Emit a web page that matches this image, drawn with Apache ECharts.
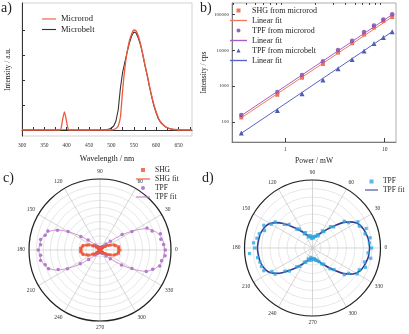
<!DOCTYPE html>
<html>
<head>
<meta charset="utf-8">
<script src="https://cdn.jsdelivr.net/npm/echarts@6/dist/echarts.min.js"></script>
<style>
html, body { margin: 0; padding: 0; background: #fff; }
#chart { width: 409px; height: 334px; }
</style>
</head>
<body>
<div id="chart"></div>
<script>
// a) emission spectra
const wavelength = [300, 385, 388, 391, 395, 399, 402, 405, 480, 490, 495, 500, 505, 510, 515, 520, 525, 530, 535, 540, 545, 550, 555, 560, 565, 570, 575, 580, 585, 590, 595, 600, 605, 610, 620, 630, 640, 660, 680];
const microrod = [0, 0, 0.03, 0.11, 0.18, 0.10, 0.03, 0, 0, 0, 0, 0, 0.005, 0.015, 0.04, 0.13, 0.40, 0.62, 0.78, 0.89, 0.96, 1.0, 0.99, 0.94, 0.86, 0.76, 0.65, 0.55, 0.44, 0.34, 0.25, 0.18, 0.12, 0.08, 0.035, 0.014, 0.005, 0, 0];
const microbelt = [0, 0, 0, 0, 0, 0, 0, 0, 0, 0.005, 0.01, 0.02, 0.04, 0.09, 0.2, 0.42, 0.58, 0.68, 0.78, 0.87, 0.94, 0.98, 0.97, 0.92, 0.85, 0.75, 0.64, 0.54, 0.43, 0.33, 0.24, 0.17, 0.11, 0.075, 0.033, 0.013, 0.005, 0, 0];

// b) power dependence (log-log)
const power = [0.36, 0.83, 1.47, 2.39, 3.39, 4.7, 6.2, 7.8, 9.7, 11.9];
const shgRod = [133, 573, 1720, 4170, 8700, 15900, 27700, 43600, 66000, 85500];
const tpfRod = [155, 690, 2040, 5000, 10300, 18700, 32500, 50000, 72900, 103000];
const tpfBelt = [49, 209, 614, 1480, 3090, 5600, 9700, 15500, 22900, 33300];
const fitPower = [0.36, 11.9];
const shgRodFit = [130, 86000];
const tpfRodFit = [150, 100000];
const tpfBeltFit = [48, 33500];

// c) / d) polarization, angle step 5 deg
const angles = [];
for (let a = 0; a < 360; a += 5) angles.push(a);
const shgDots = [.28,.26,.27,.23,.21,.16,.13,.09,.075,.05,.04,.03,.025,.02,.02,.02,.02,.02,.02,
  .02,.02,.02,.02,.02,.025,.03,.035,.055,.065,.10,.12,.17,.20,.245,.255,.275,.265,
  .275,.255,.245,.20,.17,.12,.10,.065,.055,.035,.03,.025,.02,.02,.02,.02,.02,.02,
  .02,.02,.02,.02,.02,.025,.03,.045,.05,.075,.09,.13,.16,.21,.235,.265,.26];
const shgFit = [.27,.268,.26,.24,.205,.165,.125,.095,.07,.05,.04,.03,.025,.02,.02,.02,.02,.02,.02,
  .02,.02,.02,.02,.02,.025,.03,.04,.05,.07,.095,.125,.165,.205,.24,.26,.268,.27,
  .268,.26,.24,.205,.165,.125,.095,.07,.05,.04,.03,.025,.02,.02,.02,.02,.02,.02,
  .02,.02,.02,.02,.02,.025,.03,.04,.05,.07,.095,.125,.165,.205,.24,.26,.268];
const tpfDotsC = [.92,.90,.87,.88,.78,.73,.52,.38,.19,.12,.07,.05,.04,.04,.03,.03,.03,.03,.03,
  .03,.03,.03,.04,.03,.04,.05,.07,.10,.22,.33,.52,.66,.78,.80,.85,.84,.87,
  .84,.85,.80,.77,.65,.53,.34,.21,.10,.07,.05,.04,.03,.03,.03,.03,.03,.03,
  .03,.03,.03,.03,.04,.04,.05,.06,.12,.19,.37,.52,.72,.79,.87,.88,.92];
const tpfFitC = [.91,.905,.89,.86,.80,.71,.54,.36,.20,.11,.065,.05,.04,.035,.03,.03,.03,.03,.03,
  .03,.03,.03,.03,.035,.04,.05,.065,.11,.20,.35,.51,.67,.76,.81,.84,.855,.86,
  .855,.84,.81,.76,.67,.51,.35,.20,.11,.065,.05,.04,.035,.03,.03,.03,.03,.03,
  .03,.03,.03,.03,.035,.04,.05,.065,.11,.20,.36,.54,.71,.80,.86,.89,.905];
const tpfDotsD = [.87,.84,.86,.80,.84,.76,.77,.65,.61,.44,.41,.29,.29,.20,.21,.18,.17,.15,.17,
  .14,.18,.19,.17,.25,.24,.34,.36,.49,.54,.67,.70,.79,.75,.81,.83,.87,.85,
  .93,.82,.80,.80,.79,.69,.67,.53,.48,.36,.33,.24,.23,.17,.19,.14,.18,.16,
  .17,.16,.19,.19,.22,.27,.29,.40,.45,.61,.65,.76,.76,.83,.79,.87,.82];
const tpfFitD = [.84,.835,.83,.815,.80,.78,.74,.67,.58,.47,.38,.31,.26,.22,.19,.17,.16,.155,.15,
  .155,.16,.17,.19,.22,.26,.31,.38,.46,.56,.65,.72,.76,.78,.795,.80,.805,.81,
  .805,.80,.795,.78,.76,.72,.65,.56,.46,.38,.31,.26,.22,.19,.17,.16,.155,.15,
  .155,.16,.17,.19,.22,.26,.31,.38,.47,.58,.67,.74,.78,.80,.815,.83,.835];

const angleLabels = [0, 30, 60, 90, 120, 150, 180, 210, 240, 270, 300, 330];

const FONT = 'Liberation Serif';
const TXT = '#222';
const ICON_SQUARE = 'path://M0 0H10V10H0Z';
const ICON_TRIANGLE = 'path://M5 0L10 10H0Z';
const ICON_LINE = 'path://M0 0H40V3.2H0Z';

function pairs(xs, ys) { return xs.map((x, i) => [x, ys[i]]); }
function polarPts(vals, closed) {
  const pts = angles.map((a, i) => [vals[i], a]);
  if (closed) pts.push([vals[0], 360]);
  return pts;
}
function lineItem(name) { return { name: name, icon: ICON_LINE }; }

function polarAngleAxis(idx) {
  return {
    polarIndex: idx, type: 'value', min: 0, max: 360, interval: 30,
    startAngle: 0, clockwise: false,
    axisLine: { lineStyle: { color: '#222', width: 1.2 } },
    axisTick: { show: false },
    splitLine: { show: true, lineStyle: { color: '#c4c4c4', width: 0.7 } },
    axisLabel: {
      margin: 4, fontSize: 5.5, color: '#333', fontFamily: FONT,
      formatter: v => (angleLabels.indexOf(v) >= 0 ? String(v) : '')
    }
  };
}
function polarRadiusAxis(idx, step) {
  return {
    polarIndex: idx, type: 'value', min: 0, max: 1, interval: step,
    axisLine: { show: false }, axisTick: { show: false }, axisLabel: { show: false },
    splitLine: { show: true, lineStyle: { color: '#d6d6d6', width: 0.6 } }
  };
}

const legendBase = {
  orient: 'vertical', padding: 0, itemHeight: 4, symbolKeepAspect: true,
  formatter: n => n.split('#')[0]
};

const option = {
  animation: false,
  backgroundColor: '#fff',
  title: [
    { text: 'a)', left: 1, top: 1, padding: 0, textStyle: { fontSize: 14, fontWeight: 'normal', fontFamily: FONT, color: TXT } },
    { text: 'b)', left: 200, top: 1, padding: 0, textStyle: { fontSize: 14, fontWeight: 'normal', fontFamily: FONT, color: TXT } },
    { text: 'c)', left: 3, top: 171, padding: 0, textStyle: { fontSize: 14, fontWeight: 'normal', fontFamily: FONT, color: TXT } },
    { text: 'd)', left: 202, top: 171, padding: 0, textStyle: { fontSize: 14, fontWeight: 'normal', fontFamily: FONT, color: TXT } }
  ],
  legend: [
    Object.assign({}, legendBase, {
      data: [lineItem('Microrod'), lineItem('Microbelt')], left: 42, top: 14.5, itemWidth: 14, itemGap: 1.5,
      textStyle: { fontFamily: FONT, color: TXT, fontSize: 8.5 }
    }),
    Object.assign({}, legendBase, {
      data: [
        { name: 'SHG from microrod', icon: ICON_SQUARE }, lineItem('Linear fit#1'),
        { name: 'TPF from microrod', icon: 'circle' }, lineItem('Linear fit#2'),
        { name: 'TPF from microbelt', icon: ICON_TRIANGLE }, lineItem('Linear fit#3')
      ],
      left: 230, top: 6.5, itemWidth: 17, itemGap: 2,
      textStyle: { fontFamily: FONT, color: TXT, fontSize: 8 }
    }),
    Object.assign({}, legendBase, {
      data: [{ name: 'SHG', icon: ICON_SQUARE }, lineItem('SHG fit'), { name: 'TPF#c', icon: 'circle' }, lineItem('TPF fit#c')],
      left: 136, top: 166, itemWidth: 14, itemGap: 1,
      textStyle: { fontFamily: FONT, color: TXT, fontSize: 7.5 }
    }),
    Object.assign({}, legendBase, {
      data: [{ name: 'TPF#d', icon: ICON_SQUARE }, lineItem('TPF fit#d')],
      left: 365, top: 177.5, itemWidth: 13, itemGap: 0.5,
      textStyle: { fontFamily: FONT, color: TXT, fontSize: 7.5 }
    })
  ],
  grid: [
    { left: 22, top: 3, width: 170, height: 133, show: true, borderColor: '#c8c8c8', borderWidth: 0.8 },
    { left: 232, top: 3, width: 164, height: 139, show: true, borderColor: '#9a9a9a', borderWidth: 0.8 }
  ],
  xAxis: [
    {
      gridIndex: 0, type: 'value', min: 300, max: 680,
      name: 'Wavelength / nm', nameLocation: 'middle', nameGap: 19,
      nameTextStyle: { fontFamily: FONT, fontSize: 8, color: TXT },
      axisLine: { lineStyle: { color: '#333', width: 1 } },
      axisTick: { inside: true, length: 3, lineStyle: { color: '#333' },
        customValues: [300, 325, 350, 375, 400, 425, 450, 475, 500, 525, 550, 575, 600, 625, 650, 675] },
      axisLabel: { margin: 7, fontSize: 5.5, color: '#333', fontFamily: FONT,
        customValues: [300, 350, 400, 450, 500, 550, 600, 650] },
      splitLine: { show: false }
    },
    {
      gridIndex: 1, type: 'log', logBase: 10, min: 0.29, max: 13,
      name: 'Power / mW', nameLocation: 'middle', nameGap: 15,
      nameTextStyle: { fontFamily: FONT, fontSize: 7.5, color: TXT },
      axisLine: { lineStyle: { color: '#666', width: 0.8 } },
      axisTick: { inside: true, length: 4, lineStyle: { color: '#444' }, customValues: [1, 10] },
      axisLabel: { margin: 5, fontSize: 5.5, color: '#333', fontFamily: FONT, customValues: [1, 10],
        formatter: v => String(v) },
      splitLine: { show: false }
    },
    {
      gridIndex: 1, type: 'log', logBase: 10, min: 0.29, max: 13,
      axisLine: { show: false },
      axisTick: { inside: true, length: 2, lineStyle: { color: '#444' },
        customValues: [0.3, 0.4, 0.5, 0.6, 0.7, 0.8, 0.9, 2, 3, 4, 5, 6, 7, 8, 9] },
      axisLabel: { show: false }, splitLine: { show: false }
    }
  ],
  yAxis: [
    {
      gridIndex: 0, type: 'value', min: -0.06, max: 1.27,
      name: 'Intensity / a.u.', nameLocation: 'middle', nameGap: 10,
      nameTextStyle: { fontFamily: FONT, fontSize: 7.5, color: TXT },
      axisLine: { lineStyle: { color: '#333', width: 1 } },
      axisTick: { inside: true, length: 3, lineStyle: { color: '#333' }, customValues: [0, 0.25, 0.5, 0.75, 1] },
      axisLabel: { show: false },
      splitLine: { show: false }
    },
    {
      gridIndex: 1, type: 'log', logBase: 10, min: 27.4, max: 212000,
      name: 'Intensity / cps', nameLocation: 'middle', nameGap: 24,
      nameTextStyle: { fontFamily: FONT, fontSize: 7.5, color: TXT },
      axisLine: { lineStyle: { color: '#666', width: 0.8 } },
      axisTick: { inside: true, length: 3, lineStyle: { color: '#444' }, customValues: [100, 1000, 10000, 100000] },
      axisLabel: { margin: 3, fontSize: 5, color: '#333', fontFamily: FONT, customValues: [100, 1000, 10000, 100000],
        formatter: v => String(Math.round(v)) },
      splitLine: { show: false }
    }
  ],
  polar: [
    { center: [100, 250], radius: 71 },
    { center: [312.5, 248], radius: 68 }
  ],
  angleAxis: [polarAngleAxis(0), polarAngleAxis(1)],
  radiusAxis: [polarRadiusAxis(0, 0.1), polarRadiusAxis(1, 0.125)],
  series: [
    // a
    { name: 'Microbelt', type: 'line', xAxisIndex: 0, yAxisIndex: 0, data: pairs(wavelength, microbelt),
      showSymbol: false, symbol: 'none', lineStyle: { color: '#333', width: 1.1 }, itemStyle: { color: '#333' }, z: 2 },
    { name: 'Microrod', type: 'line', xAxisIndex: 0, yAxisIndex: 0, data: pairs(wavelength, microrod),
      showSymbol: false, symbol: 'none', smooth: 0.2, lineStyle: { color: '#ef5a3c', width: 1.3 }, itemStyle: { color: '#ef5a3c' }, z: 3 },
    // b
    { name: 'Linear fit#1', type: 'line', xAxisIndex: 1, yAxisIndex: 1, data: pairs(fitPower, shgRodFit),
      symbol: 'none', lineStyle: { color: '#f07a5c', width: 1 }, itemStyle: { color: '#f07a5c' } },
    { name: 'Linear fit#2', type: 'line', xAxisIndex: 1, yAxisIndex: 1, data: pairs(fitPower, tpfRodFit),
      symbol: 'none', lineStyle: { color: '#a65ec4', width: 1 }, itemStyle: { color: '#a65ec4' } },
    { name: 'Linear fit#3', type: 'line', xAxisIndex: 1, yAxisIndex: 1, data: pairs(fitPower, tpfBeltFit),
      symbol: 'none', lineStyle: { color: '#5865c6', width: 1 }, itemStyle: { color: '#5865c6' } },
    { name: 'SHG from microrod', type: 'scatter', xAxisIndex: 1, yAxisIndex: 1, data: pairs(power, shgRod),
      symbol: 'rect', symbolSize: 4, itemStyle: { color: '#f0502e' } },
    { name: 'TPF from microrod', type: 'scatter', xAxisIndex: 1, yAxisIndex: 1, data: pairs(power, tpfRod),
      symbol: 'circle', symbolSize: 4.5, itemStyle: { color: '#7a3ea6' } },
    { name: 'TPF from microbelt', type: 'scatter', xAxisIndex: 1, yAxisIndex: 1, data: pairs(power, tpfBelt),
      symbol: 'triangle', symbolSize: 5, itemStyle: { color: '#26329a' } },
    // c
    { name: 'TPF fit#c', type: 'line', coordinateSystem: 'polar', polarIndex: 0, data: polarPts(tpfFitC, true),
      symbol: 'none', smooth: 0.3, lineStyle: { color: '#c57ac6', width: 0.8 }, itemStyle: { color: '#c57ac6' } },
    { name: 'TPF#c', type: 'scatter', coordinateSystem: 'polar', polarIndex: 0, data: polarPts(tpfDotsC, false),
      symbol: 'circle', symbolSize: 3.5, itemStyle: { color: '#9a5cc4' } },
    { name: 'SHG fit', type: 'line', coordinateSystem: 'polar', polarIndex: 0, data: polarPts(shgFit, true),
      symbol: 'none', smooth: 0.3, lineStyle: { color: '#f0502e', width: 1 }, itemStyle: { color: '#f0502e' } },
    { name: 'SHG', type: 'scatter', coordinateSystem: 'polar', polarIndex: 0, data: polarPts(shgDots, false),
      symbol: 'rect', symbolSize: 3, itemStyle: { color: '#f0502e' } },
    // d
    { name: 'TPF fit#d', type: 'line', coordinateSystem: 'polar', polarIndex: 1, data: polarPts(tpfFitD, true),
      symbol: 'none', smooth: 0.3, lineStyle: { color: '#353a92', width: 1.6 }, itemStyle: { color: '#353a92' } },
    { name: 'TPF#d', type: 'scatter', coordinateSystem: 'polar', polarIndex: 1, data: polarPts(tpfDotsD, false),
      symbol: 'rect', symbolSize: 3.2, itemStyle: { color: '#2fa8e0' }, z: 3 }
  ]
};

const chart = echarts.init(document.getElementById('chart'));
chart.setOption(option);
</script>
</body>
</html>
